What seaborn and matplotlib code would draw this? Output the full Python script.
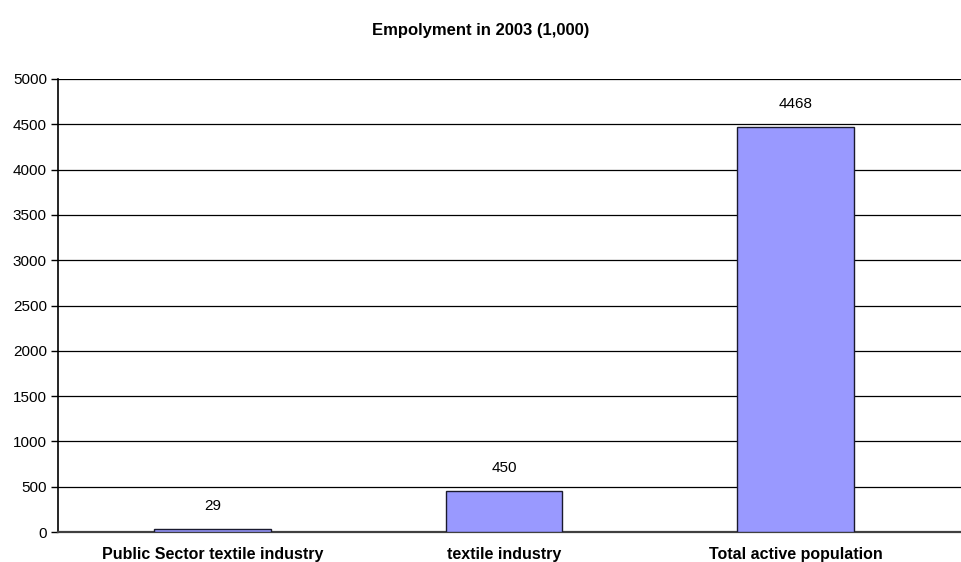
import matplotlib
matplotlib.use("Agg")
import matplotlib.pyplot as plt
import seaborn as sns
import pandas as pd

categories = ["Public Sector textile industry", "textile industry", "Total active population"]
values = [29, 450, 4468]
yticks = [0, 500, 1000, 1500, 2000, 2500, 3000, 3500, 4000, 4500, 5000]

sns.set_style("white")
plt.rcParams["font.family"] = ["Liberation Sans", "DejaVu Sans"]
plt.rcParams["text.color"] = "black"
plt.rcParams["xtick.color"] = "black"
plt.rcParams["ytick.color"] = "black"

df = pd.DataFrame({"category": categories, "value": values})

fig = plt.figure(figsize=(9.62, 5.62), dpi=100)
ax = fig.add_axes([58 / 962, 1 - 532 / 562, 904 / 962, (532 - 79) / 562])

sns.barplot(data=df, x="category", y="value", color="#9999FF", saturation=1,
            width=0.40, edgecolor="#1a1a2e", linewidth=1.0, ax=ax, zorder=3)

ax.set_ylim(0, 5000)
ax.set_xlim(-0.53, 2.57)
ax.set_yticks(yticks)
ax.set_yticklabels([str(t) for t in yticks], fontsize=11)
ax.yaxis.grid(True, color="black", linewidth=0.9, zorder=0)
ax.set_axisbelow(True)

# category labels centred; tick marks at category boundaries
ax.set_xticks([0, 1, 2])
ax.set_xticklabels(categories, fontsize=11.5, fontweight="bold")
ax.tick_params(axis="x", length=0, pad=11)
ax.set_xticks([0.5, 1.5], minor=True)
ax.tick_params(axis="x", which="minor", length=5, width=1, color="black", direction="out")
ax.tick_params(axis="y", length=5, width=1, color="black", direction="out", left=True, pad=3,
               labelcolor="black")

for side in ["top", "right"]:
    ax.spines[side].set_visible(False)
ax.spines["left"].set_color("black")
ax.spines["left"].set_linewidth(1.2)
ax.spines["bottom"].set_color("#404040")
ax.spines["bottom"].set_linewidth(1.6)

for i, v in enumerate(values):
    ax.annotate(str(v), xy=(i, v), xytext=(0, 12), textcoords="offset points",
                ha="center", va="bottom", fontsize=11, color="black")

ax.set_xlabel("")
ax.set_ylabel("")
fig.text(0.5, 1 - 31 / 562, "Empolyment in 2003 (1,000)", ha="center", va="center",
         fontsize=12, fontweight="bold", color="black")

fig.savefig("out.png", dpi=100)
